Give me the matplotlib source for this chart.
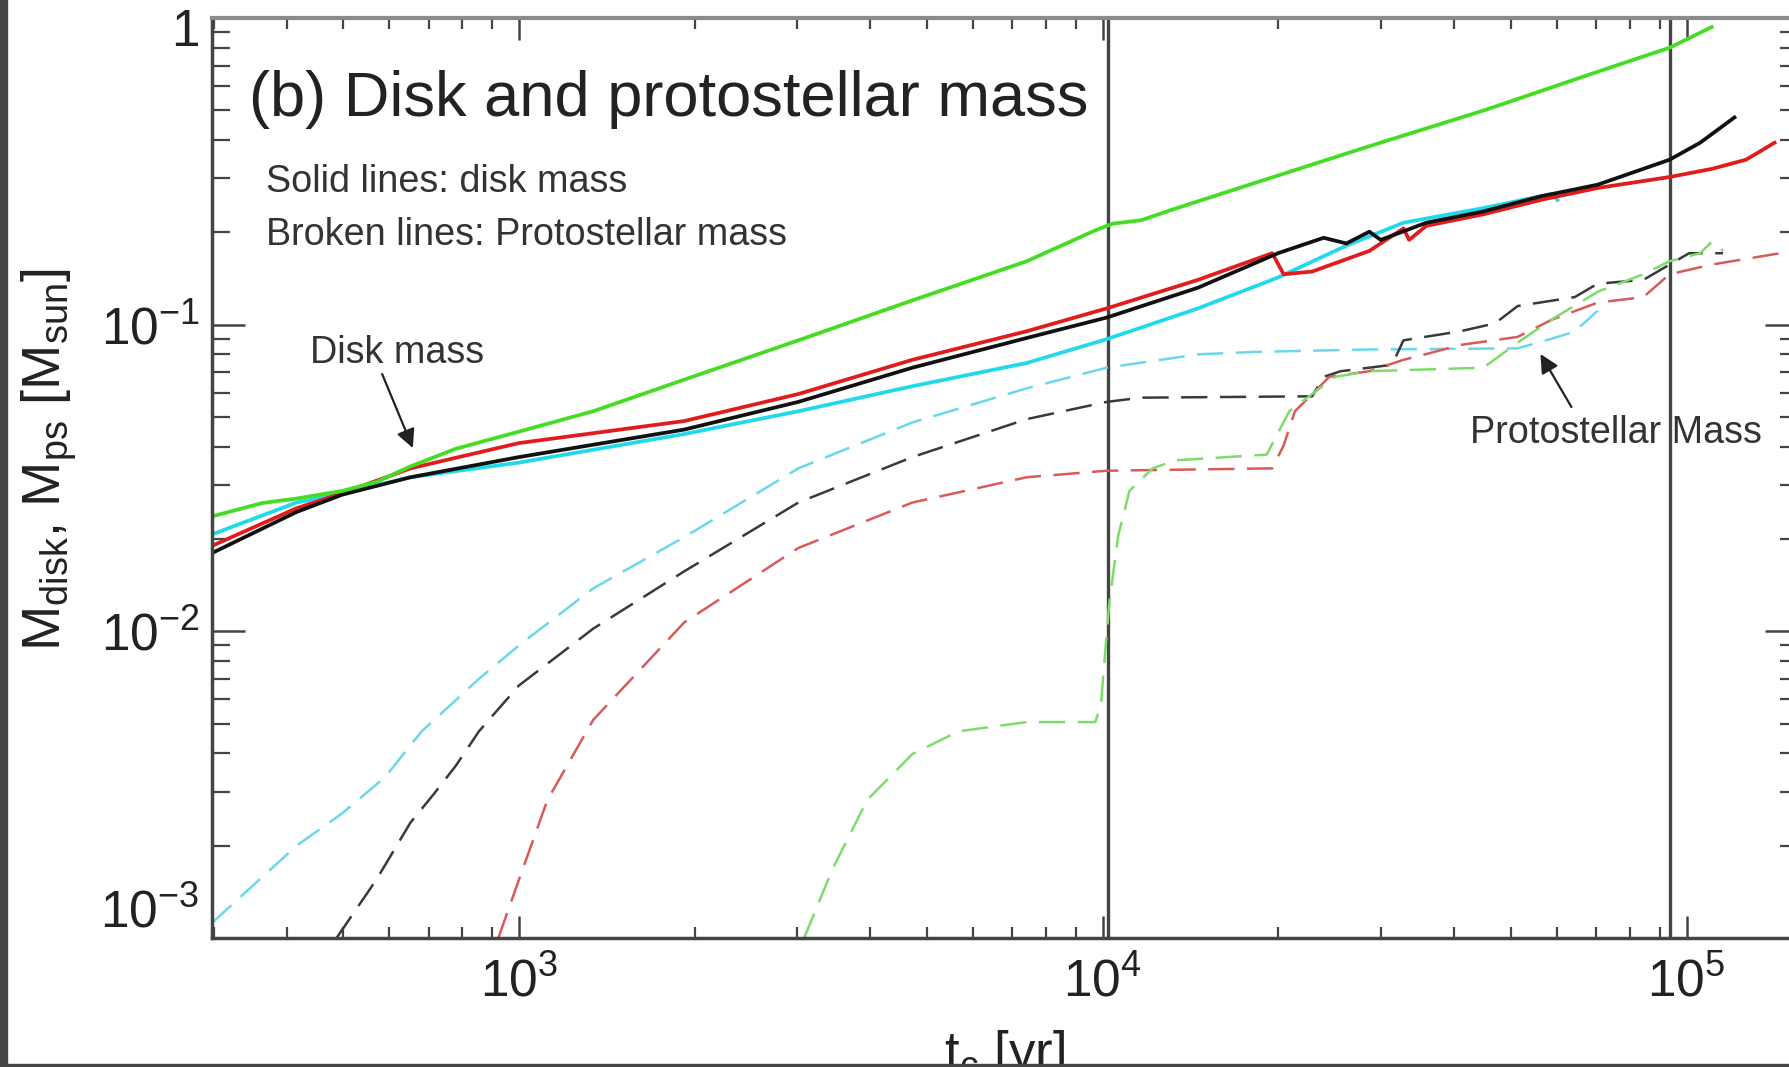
import matplotlib
matplotlib.use("Agg")
import matplotlib.pyplot as plt
from matplotlib.ticker import LogLocator, FixedLocator, FuncFormatter, NullFormatter
from matplotlib.patches import Rectangle
from matplotlib.transforms import ScaledTranslation

plt.rcParams['font.family'] = ['Liberation Sans', 'DejaVu Sans']
plt.rcParams['mathtext.fontset'] = 'custom'
plt.rcParams['mathtext.rm'] = 'Liberation Sans'
plt.rcParams['mathtext.it'] = 'Liberation Sans'
plt.rcParams['mathtext.bf'] = 'Liberation Sans:bold'
plt.rcParams['mathtext.sf'] = 'Liberation Sans'

# ---------------- data (t in yr, mass in Msun) ----------------
# disk masses (solid)
t_green_disk = [298, 363, 416, 498, 570, 652, 780, 1000, 1340, 1920, 3010, 4720, 7410,
                9710, 10400, 11630, 13310, 18240, 28620, 44880, 70410, 93500, 110400]
m_green_disk = [0.0237, 0.0262, 0.0271, 0.0287, 0.0307, 0.0345, 0.0394, 0.0448, 0.0522,
                0.0662, 0.0889, 0.120, 0.161, 0.203, 0.2135, 0.219, 0.239, 0.290, 0.382,
                0.499, 0.668, 0.800, 0.934]

t_black_disk = [298, 416, 498, 652, 1000, 1920, 3010, 4720, 7410, 10160, 14560, 19960,
                23900, 26140, 28620, 29930, 35830, 44880, 56210, 70410, 93500, 105500, 120800]
m_black_disk = [0.0180, 0.0245, 0.0279, 0.0318, 0.0370, 0.0455, 0.0560, 0.0724, 0.0905,
                0.1055, 0.132, 0.171, 0.192, 0.184, 0.201, 0.189, 0.215, 0.234, 0.262,
                0.286, 0.345, 0.392, 0.474]

t_red_disk = [298, 416, 498, 652, 1000, 1920, 3010, 4720, 7410, 10160, 14560, 19510,
              20410, 22840, 28620, 32740, 33480, 35830, 44880, 56210, 70410, 93500,
              110400, 126400, 141500]
m_red_disk = [0.0190, 0.0252, 0.0282, 0.0340, 0.0411, 0.0485, 0.0594, 0.0768, 0.0952,
              0.113, 0.140, 0.171, 0.146, 0.149, 0.174, 0.206, 0.189, 0.210, 0.229,
              0.255, 0.279, 0.303, 0.322, 0.345, 0.392]

t_cyan_disk = [298, 416, 498, 652, 1000, 1920, 3010, 4720, 7410, 10160, 14560, 19960,
               26140, 32740, 44880, 58780, 60100]
m_cyan_disk = [0.0207, 0.0263, 0.0282, 0.0318, 0.0355, 0.0440, 0.0522, 0.0630, 0.0750,
               0.0897, 0.113, 0.1425, 0.181, 0.215, 0.240, 0.267, 0.255]

# protostellar masses (broken)
t_cyan_ps = [298, 416, 498, 590, 680, 854, 1000, 1340, 1920, 3010, 4720, 7410, 10160,
             14560, 18240, 28620, 51360, 58780, 64330, 70410]
m_cyan_ps = [0.00112, 0.0020, 0.00255, 0.00335, 0.0047, 0.0070, 0.0090, 0.0138, 0.0203,
             0.034, 0.048, 0.062, 0.0724, 0.080, 0.0815, 0.083, 0.0837, 0.090, 0.095, 0.111]

t_black_ps = [487, 570, 652, 713, 780, 854, 1000, 1340, 1920, 3010, 4720, 7410, 10160,
              11630, 22840, 23900, 25560, 28620, 31300, 32740, 41000, 47000, 51360,
              64330, 70410, 84350, 101000, 115500]
m_black_ps = [0.0010, 0.00155, 0.00238, 0.00293, 0.00365, 0.00472, 0.00666, 0.0102,
              0.0157, 0.0263, 0.0370, 0.0492, 0.0560, 0.0578, 0.0584, 0.0676, 0.0705,
              0.0724, 0.0740, 0.0889, 0.0952, 0.101, 0.115, 0.123, 0.136, 0.140, 0.171, 0.171]

t_red_ps = [922, 1000, 1119, 1340, 1920, 3010, 4720, 7410, 10160, 19510, 20410, 21340,
            22840, 24440, 28620, 32740, 35830, 41000, 51360, 58780, 70410, 84350, 93500,
            110400, 144700]
m_red_ps = [0.0010, 0.00155, 0.00282, 0.00514, 0.0107, 0.0187, 0.0263, 0.0318, 0.0334,
            0.0340, 0.0404, 0.0522, 0.0594, 0.0676, 0.0705, 0.0768, 0.0802, 0.0859,
            0.0912, 0.1038, 0.118, 0.123, 0.146, 0.157, 0.171]

t_green_ps = [3080, 3450, 3950, 4720, 5660, 7410, 9710, 9930, 10250, 10620, 11110, 12170,
              13310, 19090, 20870, 24990, 28620, 44880, 51360, 58780, 70410, 84350,
              93500, 105500, 110400, 115500]
m_green_ps = [0.0010, 0.00169, 0.00282, 0.00398, 0.00472, 0.00506, 0.00506, 0.0058,
              0.0121, 0.0204, 0.0287, 0.0340, 0.0361, 0.0377, 0.0522, 0.0676, 0.0705,
              0.0724, 0.0874, 0.104, 0.128, 0.146, 0.161, 0.171, 0.186, 0.174]

vline_times = [1.02e4, 9.35e4]

y_ticks = [1e-3, 1e-2, 1e-1, 1.0]
y_tick_labels = [r'$10^{-3}$', r'$10^{-2}$', r'$10^{-1}$', '1']
x_ticks = [1e3, 1e4, 1e5]
x_tick_labels = [r'$10^{3}$', r'$10^{4}$', r'$10^{5}$']

# ---------------- figure ----------------
W, H = 1789, 1067
fig = plt.figure(figsize=(W / 100, H / 100), dpi=100)
ax = fig.add_axes([212 / W, (H - 938) / H, 1586 / W, 920 / H])
ax.set_xscale('log')
ax.set_yscale('log')
ax.set_xlim(298, 1.552e5)
ax.set_ylim(1e-3, 1.0)

lw_s = 2.7
lw_d = 1.8
dash = (10.5, 5)

ax.plot(t_cyan_ps, m_cyan_ps, color='#6ad8ea', lw=lw_d, dashes=dash)
ax.plot(t_black_ps, m_black_ps, color='#3a3a3a', lw=lw_d, dashes=dash)
ax.plot(t_red_ps, m_red_ps, color='#d95a5a', lw=lw_d, dashes=dash)
ax.plot(t_green_ps, m_green_ps, color='#7ddc6a', lw=lw_d, dashes=dash)

ax.plot(t_cyan_disk, m_cyan_disk, color='#22d8ec', lw=lw_s)
ax.plot(t_red_disk, m_red_disk, color='#e01c1c', lw=lw_s)
ax.plot(t_black_disk, m_black_disk, color='#111111', lw=lw_s)
ax.plot(t_green_disk, m_green_disk, color='#44dd22', lw=lw_s)

for tv in vline_times:
    ax.axvline(tv, color='#444444', lw=2.4, zorder=1)

# spines
for s in ['left', 'bottom', 'right']:
    ax.spines[s].set_color('#444444')
    ax.spines[s].set_linewidth(2.5)
ax.spines['top'].set_color('#8a8a8a')
ax.spines['top'].set_linewidth(3)

# ticks
ax.yaxis.set_major_locator(FixedLocator(y_ticks))
ax.yaxis.set_major_formatter(FuncFormatter(lambda v, p: y_tick_labels[y_ticks.index(min(y_ticks, key=lambda a: abs(a - v)))]))
ax.yaxis.set_minor_locator(LogLocator(base=10, subs=range(2, 10), numticks=20))
ax.yaxis.set_minor_formatter(NullFormatter())
ax.xaxis.set_major_locator(FixedLocator(x_ticks))
ax.xaxis.set_major_formatter(FuncFormatter(lambda v, p: x_tick_labels[x_ticks.index(min(x_ticks, key=lambda a: abs(a - v)))]))
ax.xaxis.set_minor_locator(LogLocator(base=10, subs=range(2, 10), numticks=20))
ax.xaxis.set_minor_formatter(NullFormatter())

ax.tick_params(axis='y', which='major', direction='in', length=24, width=1.8,
               left=True, right=True, labelsize=37, pad=9, colors='#444444',
               labelcolor='#222222')
ax.tick_params(axis='y', which='minor', direction='in', length=13, width=1.6,
               left=True, right=True, colors='#444444')
ax.tick_params(axis='x', which='major', direction='in', length=16, width=1.8,
               bottom=True, top=True, labelsize=37, pad=14, colors='#444444',
               labelcolor='#222222')
ax.tick_params(axis='x', which='minor', direction='in', length=8, width=1.6,
               bottom=True, top=True, colors='#444444')

fig.canvas.draw()
yt = ax.yaxis.get_major_ticks()
yt[0].label1.set_va('bottom')
yt[-1].label1.set_va('top')
yt[-1].label1.set_transform(yt[-1].label1.get_transform()
                            + ScaledTranslation(0, 7 / 72, fig.dpi_scale_trans))

# axis labels
ax.set_ylabel(r'M$_{\rm disk}$, M$_{\rm ps}$ [M$_{\rm sun}$]', fontsize=39, color='#222222')
ax.yaxis.set_label_coords(-0.084, 0.52)
ax.set_xlabel(r't$_{\rm c}$ [yr]', fontsize=38, color='#222222')
ax.xaxis.set_label_coords(0.5, -0.0978)

# texts
ax.text(0.0234, 0.8935, '(b) Disk and protostellar mass', transform=ax.transAxes,
        fontsize=45.5, color='#222222', va='baseline', ha='left')
ax.text(0.0342, 0.8109, 'Solid lines: disk mass', transform=ax.transAxes,
        fontsize=27.2, color='#333333', va='baseline', ha='left')
ax.text(0.0342, 0.7533, 'Broken lines: Protostellar mass', transform=ax.transAxes,
        fontsize=27.2, color='#333333', va='baseline', ha='left')
ax.text(0.0621, 0.625, 'Disk mass', transform=ax.transAxes,
        fontsize=27.2, color='#333333', va='baseline', ha='left')
ax.text(0.7930, 0.538, 'Protostellar Mass', transform=ax.transAxes,
        fontsize=27.2, color='#333333', va='baseline', ha='left')

ax.annotate('', xy=(56200, 0.0802), xytext=(63500, 0.0539), xycoords='data',
            arrowprops=dict(arrowstyle='-|>', mutation_scale=28, lw=1.6, color='#222222',
                            shrinkA=0, shrinkB=0))
ax.annotate('', xy=(658, 0.0396), xytext=(583, 0.069), xycoords='data',
            arrowprops=dict(arrowstyle='-|>', mutation_scale=28, lw=1.6, color='#222222',
                            shrinkA=0, shrinkB=0))

# screenshot frame (dark border left and bottom)
fig.add_artist(Rectangle((0, 0), 7 / W, 1, transform=fig.transFigure,
                         color='#454545', zorder=20))
fig.add_artist(Rectangle((0, 0), 1, 3.5 / H, transform=fig.transFigure,
                         color='#454545', zorder=20))

fig.savefig('out.png', dpi=100)
